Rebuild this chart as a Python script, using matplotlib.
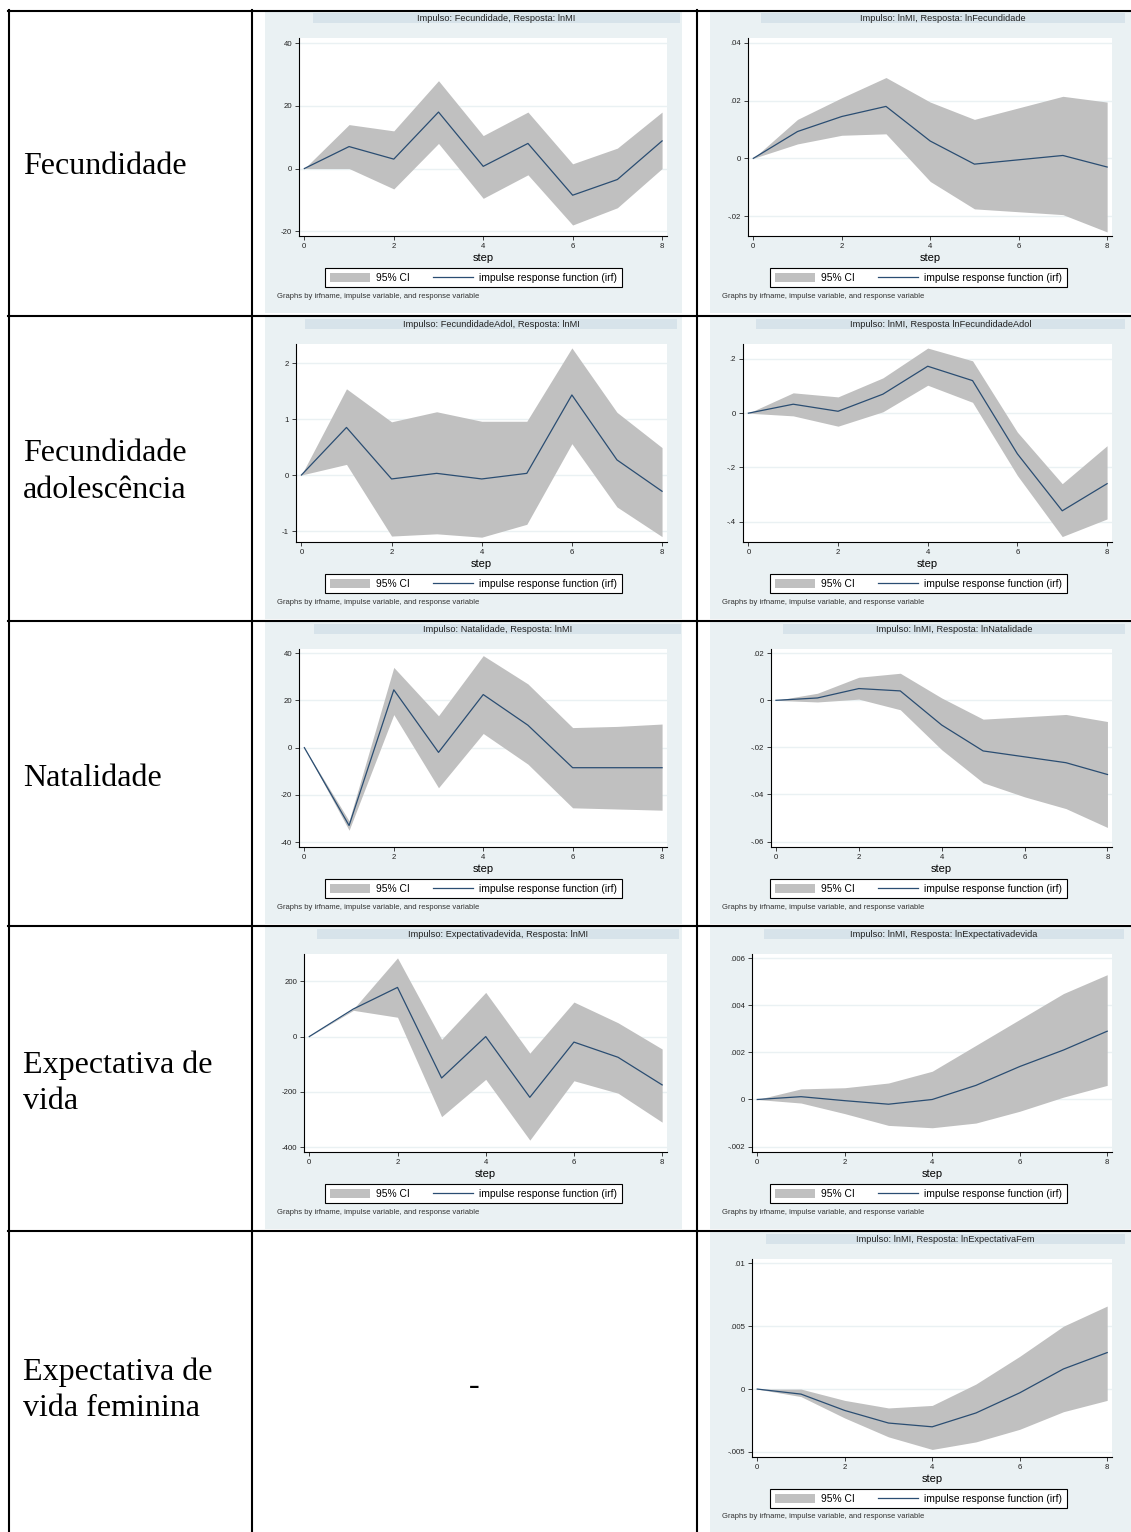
import re
import numpy as np
import matplotlib
matplotlib.use("Agg")
import matplotlib.pyplot as plt
from matplotlib.patches import Rectangle, Patch
from matplotlib.lines import Line2D
from matplotlib.ticker import FuncFormatter

W, H = 1131, 1532

steps = [0, 1, 2, 3, 4, 5, 6, 7, 8]

# Impulso: Fecundidade, Resposta: lnMI
irf_fec_mi = [0, 7, 3, 18, 0.7, 8, -8.5, -3.5, 8.8]
lo_fec_mi = [0, 0, -6.5, 8, -9.5, -2, -18, -12.5, 0]
hi_fec_mi = [0, 14, 12, 28, 10.5, 18, 1.5, 6.5, 18]

# Impulso: lnMI, Resposta: lnFecundidade
irf_mi_fec = [0, .0093, .0145, .018, .006, -.002, -.0005, .001, -.003]
lo_mi_fec = [0, .005, .008, .0085, -.008, -.0175, -.0185, -.0195, -.0255]
hi_mi_fec = [0, .0135, .021, .028, .0195, .0135, .0175, .0215, .0195]

# Impulso: FecundidadeAdol, Resposta: lnMI
irf_adol_mi = [0, .85, -.07, .03, -.07, .03, 1.43, .27, -.29]
lo_adol_mi = [0, .19, -1.09, -1.05, -1.11, -.88, .56, -.57, -1.1]
hi_adol_mi = [0, 1.54, .95, 1.13, .96, .96, 2.27, 1.12, .49]

# Impulso: lnMI, Resposta lnFecundidadeAdol
irf_mi_adol = [0, .033, .007, .07, .173, .12, -.15, -.36, -.26]
lo_mi_adol = [0, -.01, -.048, .005, .103, .04, -.23, -.455, -.39]
hi_mi_adol = [0, .075, .06, .13, .24, .193, -.07, -.26, -.12]

# Impulso: Natalidade, Resposta: lnMI
irf_nat_mi = [0, -33, 24.5, -2, 22.5, 9.5, -8.5, -8.5, -8.5]
lo_nat_mi = [0, -35, 14, -17, 6, -7, -25.5, -26, -26.5]
hi_nat_mi = [0, -31, 34, 13.5, 39, 27, 8.5, 9, 10]

# Impulso: lnMI, Resposta: lnNatalidade
irf_mi_nat = [0, .001, .005, .004, -.0105, -.0215, -.024, -.0265, -.0315]
lo_mi_nat = [0, -.0007, .0005, -.004, -.021, -.035, -.041, -.046, -.054]
hi_mi_nat = [0, .003, .0098, .0115, .001, -.008, -.007, -.006, -.009]

# Impulso: Expectativadevida, Resposta: lnMI
irf_exp_mi = [0, 100, 178, -150, 0, -220, -20, -75, -175]
lo_exp_mi = [0, 95, 70, -290, -155, -375, -160, -205, -310]
hi_exp_mi = [0, 100, 285, -10, 160, -60, 125, 50, -45]

# Impulso: lnMI, Resposta: lnExpectativadevida
irf_mi_exp = [0, .00012, -.00005, -.0002, 0, .0006, .0014, .0021, .0029]
lo_mi_exp = [0, -.00015, -.0006, -.0011, -.0012, -.001, -.0005, .0001, .0006]
hi_mi_exp = [0, .00045, .0005, .0007, .0012, .0023, .0034, .0045, .0053]

# Impulso: lnMI, Resposta: lnExpectativaFem
irf_mi_fem = [0, -.0004, -.0017, -.0027, -.003, -.0019, -.0003, .0016, .0029]
lo_mi_fem = [0, -.0006, -.0023, -.0038, -.0048, -.0042, -.0032, -.0018, -.0009]
hi_mi_fem = [0, 0, -.0009, -.0015, -.0013, .0004, .0026, .005, .0066]

row_labels = ["Fecundidade", "Fecundidade\nadolescência", "Natalidade",
              "Expectativa de\nvida", "Expectativa de\nvida feminina"]

legend_labels = ["95% CI", "impulse response function (irf)"]
note = "Graphs by irfname, impulse variable, and response variable"

BG = "#EAF1F3"
STRIP = "#D7E3EA"
BAND = "#C0C0C0"
LINE = "#2A4D72"
SANS = "Liberation Sans"
SERIF = "Liberation Serif"

# row, column, title, irf, lo, hi, yticks, ylim, left spine px, strip x-range px
panels = [
    (0, "mid", "Impulso: Fecundidade, Resposta: lnMI", irf_fec_mi, lo_fec_mi, hi_fec_mi,
     [-20, 0, 20, 40], (-21.5, 41.6), 299, (313, 680)),
    (0, "right", "Impulso: lnMI, Resposta: lnFecundidade", irf_mi_fec, lo_mi_fec, hi_mi_fec,
     [-.02, 0, .02, .04], (-.0269, .0417), 748, (761, 1125)),
    (1, "mid", "Impulso: FecundidadeAdol, Resposta: lnMI", irf_adol_mi, lo_adol_mi, hi_adol_mi,
     [-1, 0, 1, 2], (-1.196, 2.34), 296, (305, 677)),
    (1, "right", "Impulso: lnMI, Resposta lnFecundidadeAdol", irf_mi_adol, lo_mi_adol, hi_mi_adol,
     [-.4, -.2, 0, .2], (-.475, .255), 743, (756, 1125)),
    (2, "mid", "Impulso: Natalidade, Resposta: lnMI", irf_nat_mi, lo_nat_mi, hi_nat_mi,
     [-40, -20, 0, 20, 40], (-42.1, 41.8), 299, (314, 681)),
    (2, "right", "Impulso: lnMI, Resposta: lnNatalidade", irf_mi_nat, lo_mi_nat, hi_mi_nat,
     [-.06, -.04, -.02, 0, .02], (-.0623, .0218), 771, (783, 1125)),
    (3, "mid", "Impulso: Expectativadevida, Resposta: lnMI", irf_exp_mi, lo_exp_mi, hi_exp_mi,
     [-400, -200, 0, 200], (-418, 299), 304, (317, 679)),
    (3, "right", "Impulso: lnMI, Resposta: lnExpectativadevida", irf_mi_exp, lo_mi_exp, hi_mi_exp,
     [-.002, 0, .002, .004, .006], (-.00223, .00618), 752, (764, 1124)),
    (4, "right", "Impulso: lnMI, Resposta: lnExpectativaFem", irf_mi_fem, lo_mi_fem, hi_mi_fem,
     [-.005, 0, .005, .01], (-.0054, .01034), 752, (766, 1125)),
]

row_tops = [11, 317, 622, 927, 1232]
row_lines = [10.5, 315.5, 621, 926, 1231]
label_y = [166, 472, 778, 1083, 1390]
cols = {"mid": dict(x0=265, x1=682, right=667, leg=473.5),
        "right": dict(x0=710, x1=1131, right=1112, leg=918.5)}


def fx(px):
    return px / W


def fy(py):
    return 1 - py / H


def stata_fmt(v, pos=None):
    s = f"{round(v, 6):g}"
    return re.sub(r"^(-?)0\.", r"\1.", s)


fig = plt.figure(figsize=(W / 100, H / 100), dpi=100)
fig.patch.set_facecolor("white")


def rect(x0, y0, x1, y1, color, z=0):
    fig.add_artist(Rectangle((fx(x0), fy(y1)), (x1 - x0) / W, (y1 - y0) / H,
                             transform=fig.transFigure, facecolor=color,
                             edgecolor="none", zorder=z))


for row, col, title, irf, lo, hi, yt, yl, left, strip in panels:
    c = cols[col]
    r = row_tops[row]
    bottom = r + 302 if row < 4 else H
    rect(c["x0"], r, c["x1"], bottom, BG)
    rect(strip[0], r + 2, strip[1], r + 12, STRIP, z=1)
    fig.text(fx((strip[0] + strip[1]) / 2), fy(r + 7.5), title, fontsize=6.7,
             family=SANS, ha="center", va="center", color="#222222", zorder=2)

    ax = fig.add_axes([fx(left), fy(r + 225), (c["right"] - left) / W, 198 / H])
    ax.set_facecolor("white")
    ax.fill_between(steps, lo, hi, color=BAND, lw=0, zorder=2)
    ax.plot(steps, irf, color=LINE, lw=0.9, zorder=3)
    ax.set_xlim(-0.12, 8.11)
    ax.set_ylim(*yl)
    ax.set_xticks([0, 2, 4, 6, 8])
    ax.set_yticks(yt)
    ax.yaxis.set_major_formatter(FuncFormatter(stata_fmt))
    ax.yaxis.grid(True, color=BG, lw=1.0)
    ax.set_axisbelow(True)
    for s in ["top", "right"]:
        ax.spines[s].set_visible(False)
    for s in ["left", "bottom"]:
        ax.spines[s].set_linewidth(0.8)
    ax.tick_params(direction="out", length=3, width=0.6, labelsize=5.6, pad=2,
                   colors="#222222")
    for t in ax.get_xticklabels() + ax.get_yticklabels():
        t.set_family(SANS)
    ax.set_xlabel("step", fontsize=8, family=SANS, labelpad=2)

    handles = [Patch(facecolor=BAND, edgecolor="none"),
               Line2D([0], [0], color=LINE, lw=0.9)]
    leg = fig.legend(handles, legend_labels, loc="upper center",
                     bbox_to_anchor=(fx(c["leg"]), fy(r + 257)), ncol=2,
                     prop=dict(family=SANS, size=7.4), frameon=True, fancybox=False,
                     edgecolor="black", framealpha=1, borderaxespad=0,
                     handlelength=3.9, handleheight=1.0, columnspacing=2.2,
                     handletextpad=0.6, borderpad=0.45)
    leg.get_frame().set_linewidth(0.8)

    fig.text(fx(c["x0"] + 12), fy(r + 285), note, fontsize=5.5, family=SANS,
             ha="left", va="center", color="#333333")

# left column labels
for lab, y in zip(row_labels, label_y):
    fig.text(fx(23), fy(y), lab, fontsize=23, family=SERIF,
             ha="left", va="center", linespacing=1.32)

fig.text(fx(474), fy(1386), "-", fontsize=23, family=SERIF, ha="center", va="center")

# table borders
lw = 1.5
for y in row_lines:
    fig.add_artist(Line2D([fx(8), 1], [fy(y), fy(y)], color="black", lw=lw, zorder=10))
for x in [8.5, 252, 697]:
    fig.add_artist(Line2D([fx(x), fx(x)], [fy(10), 0], color="black", lw=lw, zorder=10))

fig.savefig("out.png", dpi=100)
